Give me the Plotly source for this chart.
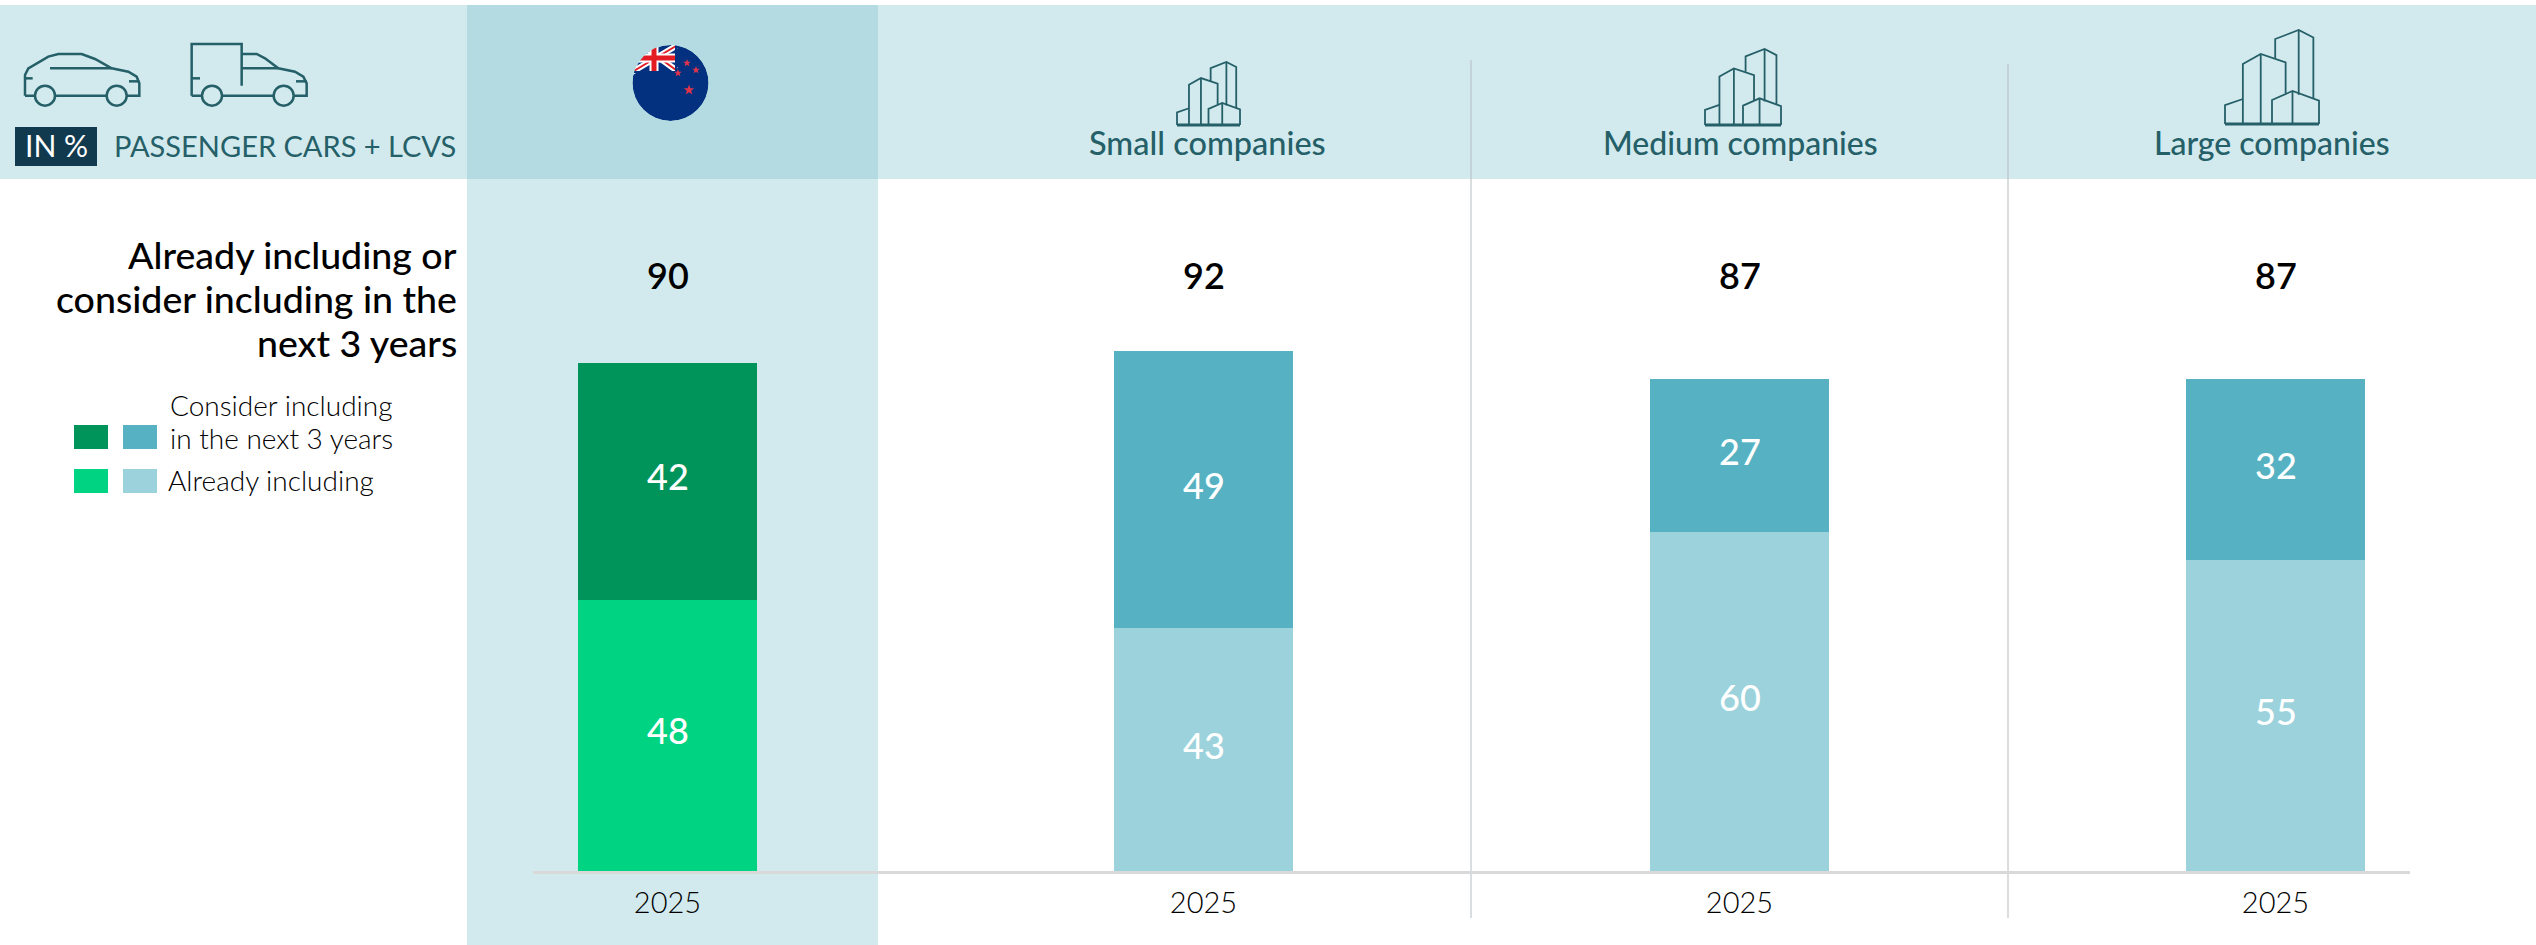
import math
import plotly.graph_objects as go

W, H = 2536, 945
segments = ["New Zealand", "Small companies", "Medium companies", "Large companies"]
years = ["2025", "2025", "2025", "2025"]
consider = [42, 49, 27, 32]
already = [48, 43, 60, 55]
totals = [90, 92, 87, 87]
consider_colors = ["#01945A", "#56B2C2", "#56B2C2", "#56B2C2"]
already_colors = ["#00D382", "#9BD2DC", "#9BD2DC", "#9BD2DC"]

FONT = "Lato"
DARK = "#255F68"
BAND = "#D2EAEE"
BAND2 = "#B3DBE1"
NAVY = "#03307F"
BASE_Y = 871


def px(x):
    return x / W


def py(y):
    return 1 - y / H


shapes = []
annotations = []


def rect(x0, y0, x1, y1, color, layer="below"):
    shapes.append(dict(type="rect", xref="paper", yref="paper", x0=px(x0), x1=px(x1),
                       y0=py(y0), y1=py(y1), fillcolor=color, line_width=0, layer=layer))


def poly(points, color=DARK, width=2, fill=None, close=False):
    d = "M" + " L".join(f"{px(x):.6f},{py(y):.6f}" for x, y in points)
    if close:
        d += " Z"
    s = dict(type="path", xref="paper", yref="paper", path=d, layer="above",
             line=dict(color=color, width=width))
    if fill:
        s["fillcolor"] = fill
    if width == 0:
        s["line"] = dict(width=0)
    shapes.append(s)


def circle(cx, cy, r, color=DARK, width=2, fill=None):
    s = dict(type="circle", xref="paper", yref="paper", x0=px(cx - r), x1=px(cx + r),
             y0=py(cy - r), y1=py(cy + r), layer="above", line=dict(color=color, width=width))
    if fill:
        s["fillcolor"] = fill
    if width == 0:
        s["line"] = dict(width=0)
    shapes.append(s)


def text(x, y, t, size, color="#000000", anchor="center", weight=400):
    annotations.append(dict(xref="paper", yref="paper", x=px(x), y=py(y), text=t, showarrow=False,
                            xanchor=anchor, yanchor="middle", align=anchor,
                            font=dict(family=FONT, size=size, color=color, weight=weight)))


# Backgrounds
rect(0, 5, W, 179, BAND)
rect(467, 179, 878, H, BAND)
rect(467, 5, 878, 179, BAND2)

# Dividers
for x, y0 in [(1471, 60), (2008, 64)]:
    shapes.append(dict(type="line", xref="paper", yref="paper", x0=px(x), x1=px(x), y0=py(y0), y1=py(918),
                       line=dict(color="#B5BCC0", width=1), layer="below"))


def ic(pts):
    return [(15 + a / 3, 35 + b / 3) for a, b in pts]


def wheel(a):
    (cx, cy), = ic([(a, 182)])
    circle(cx, cy, 10, width=2.5, fill=BAND)


poly(ic([(30, 182), (30, 120), (40, 100), (100, 65), (130, 57), (200, 57), (240, 72), (290, 100),
         (340, 110), (365, 125), (373, 145), (373, 182), (30, 182)]), width=2.5)
poly(ic([(105, 100), (290, 100)]), width=2.5)
poly(ic([(30, 130), (53, 130)]), width=2.5)
poly(ic([(342, 139), (373, 139)]), width=2.5)
wheel(90)
wheel(305)
poly(ic([(530, 182), (530, 27), (680, 27), (680, 152)]), width=2.5)
poly(ic([(680, 57), (725, 57), (750, 70), (790, 100), (840, 110), (865, 125), (875, 145), (875, 182), (530, 182)]), width=2.5)
poly(ic([(680, 100), (790, 100)]), width=2.5)
poly(ic([(530, 130), (555, 130)]), width=2.5)
poly(ic([(843, 139), (875, 139)]), width=2.5)
wheel(591)
wheel(806)

rect(15, 127, 97, 166, "#123A4F", layer="above")
text(56, 145, "IN %", 30, "#FFFFFF")
text(112, 145, "PASSENGER CARS + LCVS", 29, DARK, "left")

# Flag of New Zealand
FX, FY, FR = 670.5, 83, 38
circle(FX, FY, FR, width=0, fill=NAVY)
for pts in ([(632, 72), (676, 46)], [(640, 44), (676, 70)]):
    poly(pts, color="#FFFFFF", width=6)
for pts in ([(632, 72), (676, 46)], [(640, 44), (676, 70)]):
    poly(pts, color="#E31B23", width=2)
poly([(630, 58), (676, 58)], color="#FFFFFF", width=9)
poly([(654, 44), (654, 71)], color="#FFFFFF", width=9)
poly([(630, 58), (676, 58)], color="#E31B23", width=5)
poly([(654, 44), (654, 71)], color="#E31B23", width=5)
poly([(676, 42), (676, 74)], color=NAVY, width=2)
poly([(628, 72), (678, 72)], color=NAVY, width=2)
for sx, sy, sr in [(687, 63, 4), (696, 70, 4), (678, 73, 4), (689, 90, 5.5)]:
    pts = []
    for i in range(10):
        a = -math.pi / 2 + i * math.pi / 5
        r = sr if i % 2 == 0 else sr * 0.42
        pts.append((sx + r * math.cos(a), sy + r * math.sin(a)))
    poly(pts, width=0, fill="#E0344B", close=True)
circle(FX, FY, FR + 9, color=BAND2, width=18)


# Building icons: outlines as fractions of the icon box
ICON_PARTS = [
    [(.534, .70), (.534, .904), (.784, 1), (.94, .92), (.94, .27)],
    [(.784, 1), (.784, .31)],
    [(.19, 0), (.19, .638), (.38, .745), (.645, .656), (.645, .326)],
    [(.38, .745), (.38, 0)],
    [(0, 0), (0, .2), (.19, .266)],
    [(.5, 0), (.5, .255), (.718, .351), (1, .248), (1, 0)],
    [(.718, .351), (.718, 0)],
]


def b_icon(x0, x1, y0, y1):
    w, h = x1 - x0, y1 - y0
    for part in ICON_PARTS:
        poly([(x0 + a * w, y1 - b * h) for a, b in part], width=1.8)
    poly([(x0, y1), (x1, y1)], width=3)


b_icon(1177, 1240, 62, 125)
b_icon(1705, 1781, 49, 125)
b_icon(2225, 2319, 30, 124)

text(1207, 142, "Small companies", 32.5, DARK, weight=500)
text(1741, 142, "Medium companies", 32, DARK, weight=500)
text(2272, 142, "Large companies", 32, DARK, weight=500)

# Left column texts
text(459, 254, "Already including or", 37.5, anchor="right", weight=500)
text(459, 298, "consider including in the", 37.5, anchor="right", weight=500)
text(459, 343, "next 3 years", 37.5, anchor="right", weight=500)

for x, c in [(74, consider_colors[0]), (123, consider_colors[1])]:
    rect(x, 425, x + 34, 449, c)
for x, c in [(74, already_colors[0]), (123, already_colors[1])]:
    rect(x, 469, x + 34, 493, c)
text(168, 405, "Consider including", 28, "#000000", "left", weight=300)
text(168, 438, "in the next 3 years", 28, "#000000", "left", weight=300)
text(166, 480, "Already including", 28, "#000000", "left", weight=300)

x_pos = list(range(len(segments)))
fig = go.Figure()
fig.add_bar(x=x_pos, y=already, name="Already including", customdata=segments, width=0.334,
            marker=dict(color=already_colors, line_width=0))
fig.add_bar(x=x_pos, y=consider, name="Consider including in the next 3 years", customdata=segments, width=0.334,
            marker=dict(color=consider_colors, line_width=0))

# Value labels, centred on each segment
for x, a, c in zip(x_pos, already, consider):
    for mid, v in [(a / 2, a), (a + c / 2, c)]:
        annotations.append(dict(xref="x", yref="y", x=x, y=mid, yshift=5, text=str(v), showarrow=False,
                                xanchor="center", yanchor="middle",
                                font=dict(family=FONT, size=36, color="#FFFFFF", weight=500)))

# Totals above the bars, at a common height
for x, t in zip(x_pos, totals):
    annotations.append(dict(xref="x", yref="paper", x=x, y=py(275), text=str(t), showarrow=False,
                            xanchor="center", yanchor="middle",
                            font=dict(family=FONT, size=36, color="#000000", weight=600)))

fig.update_layout(
    width=W, height=H, barmode="stack", showlegend=False,
    margin=dict(l=0, r=0, t=0, b=0),
    paper_bgcolor="#FFFFFF", plot_bgcolor="rgba(0,0,0,0)",
    shapes=shapes, annotations=annotations,
    xaxis=dict(domain=[533 / W, 2410 / W], range=[(533 - 667.5) / 536, (2410 - 667.5) / 536],
               tickmode="array", tickvals=x_pos, ticktext=years, showgrid=False, zeroline=False,
               showline=True, linecolor="#D9D9D9", linewidth=3, ticks="", ticklabelstandoff=4,
               tickfont=dict(family=FONT, size=29, color="#000000", weight=300), fixedrange=True),
    yaxis=dict(domain=[(H - BASE_Y) / H, 1], range=[0, BASE_Y / 5.65], visible=False, fixedrange=True),
)
fig.write_html("out.html", config=dict(displayModeBar=False, responsive=False),
               post_script="document.body.style.margin='0';document.body.style.overflow='hidden';")
